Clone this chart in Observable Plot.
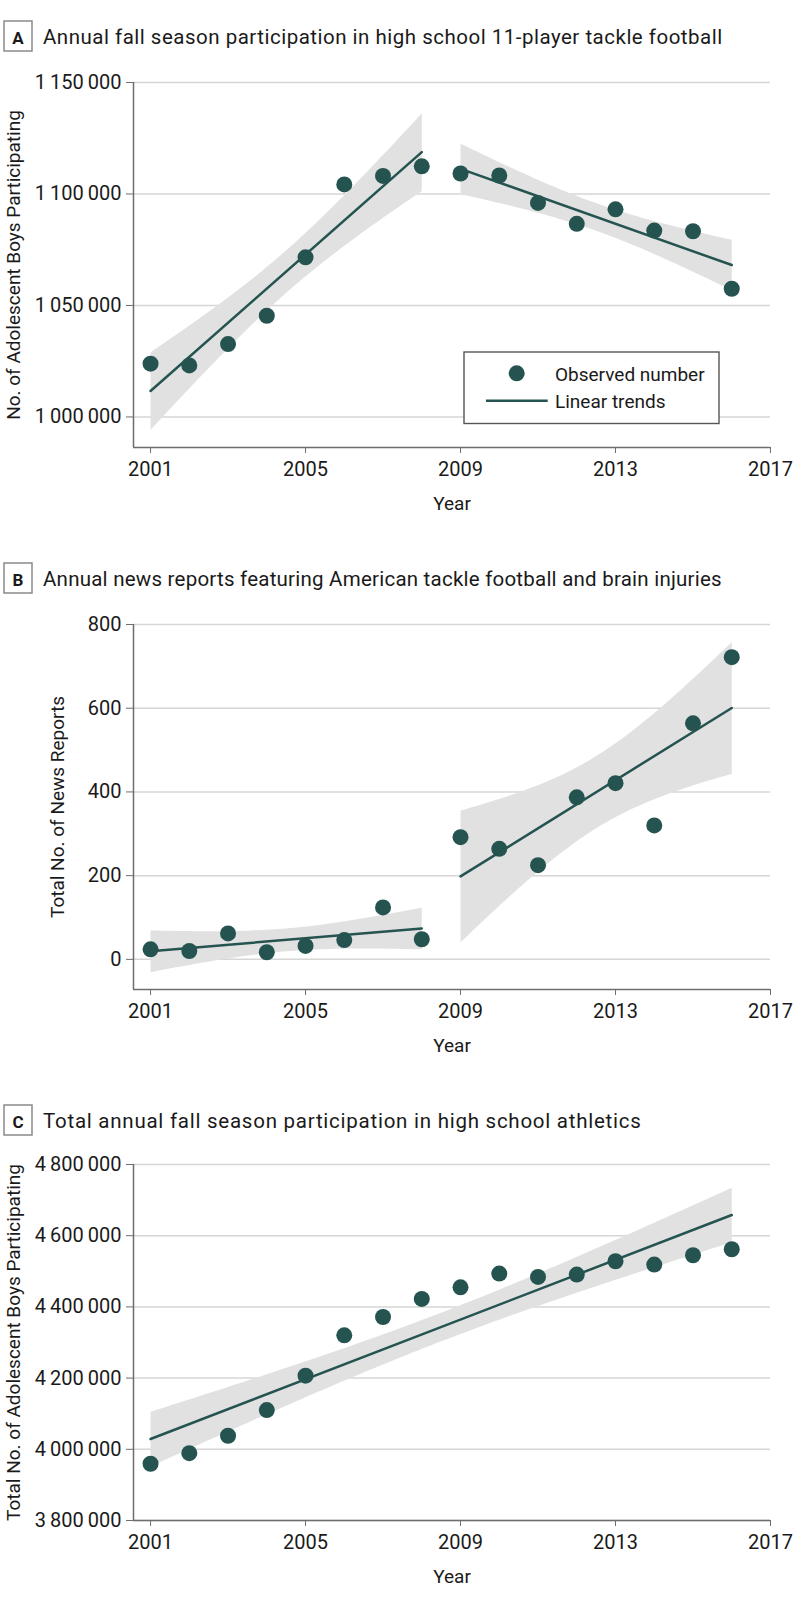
<!DOCTYPE html>
<html>
<head>
<meta charset="utf-8">
<script src="https://cdn.jsdelivr.net/npm/d3@7"></script>
<script src="https://cdn.jsdelivr.net/npm/@observablehq/plot@0.6"></script>
<style>
  body { margin: 0; background: #fff; font-family: Roboto, sans-serif; }
  #root { position: relative; width: 798px; height: 1617px; overflow: hidden; }
  .abs { position: absolute; left: 0; }
</style>
</head>
<body>
<div id="root"></div>
<script>
// ---------------- data ----------------
const years = [2001, 2002, 2003, 2004, 2005, 2006, 2007, 2008, 2009, 2010, 2011, 2012, 2013, 2014, 2015, 2016];
const footballParticipants = [1023900, 1023100, 1032700, 1045400, 1071600, 1104300, 1108100, 1112400,
                              1109200, 1108300, 1096000, 1086600, 1093100, 1083600, 1083300, 1057500];
const newsReports = [24, 20, 62, 17, 32, 46, 124, 48, 292, 264, 225, 387, 421, 320, 564, 722];
const athleticsParticipants = [3959400, 3989200, 4038100, 4110200, 4206800, 4320200, 4371700, 4422300,
                               4455100, 4493600, 4484200, 4490800, 4528300, 4518900, 4545100, 4562000];
const splitAfterYear = 2008;

const panelLetters = ["A", "B", "C"];
const panelTitles = [
  "Annual fall season participation in high school 11-player tackle football",
  "Annual news reports featuring American tackle football and brain injuries",
  "Total annual fall season participation in high school athletics"
];
const yAxisLabels = [
  "No. of Adolescent Boys Participating",
  "Total No. of News Reports",
  "Total No. of Adolescent Boys Participating"
];
const xAxisLabel = "Year";
const xTicks = [2001, 2005, 2009, 2013, 2017];
const xTickLabels = ["2001", "2005", "2009", "2013", "2017"];
const yTicksA = [1000000, 1050000, 1100000, 1150000];
const yTickLabelsA = ["1\u2009000\u2009000", "1\u2009050\u2009000", "1\u2009100\u2009000", "1\u2009150\u2009000"];
const yTicksB = [0, 200, 400, 600, 800];
const yTickLabelsB = ["0", "200", "400", "600", "800"];
const yTicksC = [3800000, 4000000, 4200000, 4400000, 4600000, 4800000];
const yTickLabelsC = ["3\u2009800\u2009000", "4\u2009000\u2009000", "4\u2009200\u2009000", "4\u2009400\u2009000", "4\u2009600\u2009000", "4\u2009800\u2009000"];
const legendLabels = ["Observed number", "Linear trends"];

// ---------------- style ----------------
const DARK = "#255450";
const BAND = "#e1e1e1";
const GRID = "#d6d6d6";
const AXIS = "#6e6e6e";
const TEXT = "#1a1a1a";
const FONT = "Roboto, sans-serif";
const X0 = 2000.56, X1 = 2017;

const root = document.getElementById("root");

function header(letter, title, boxTop, spacing) {
  const ns = "http://www.w3.org/2000/svg";
  const svg = document.createElementNS(ns, "svg");
  svg.setAttribute("width", 798);
  svg.setAttribute("height", 40);
  svg.setAttribute("class", "abs");
  svg.style.top = (boxTop - 4) + "px";
  svg.style.fontFamily = FONT;
  svg.innerHTML =
    `<rect x="4" y="4" width="28" height="30" fill="#fff" stroke="#8a8a8a" stroke-width="1.5"/>` +
    `<text x="18" y="27.3" text-anchor="middle" font-weight="bold" font-size="17" fill="${TEXT}"></text>` +
    `<text x="43" y="27.3" font-size="20.5" letter-spacing="${spacing}" fill="${TEXT}"></text>`;
  const t = svg.querySelectorAll("text");
  t[0].textContent = letter;
  t[1].textContent = title;
  root.appendChild(svg);
}

function panel({values, split, yDomain, yTicks, yTickLabels, yLabel, labelDx, top, plotH}) {
  const data = years.map((year, i) => ({
    year,
    value: values[i],
    period: split ? (year <= splitAfterYear ? "early" : "late") : "all"
  }));
  const fmtY = (d) => yTickLabels[yTicks.indexOf(d)];
  const fmtX = (d) => xTickLabels[xTicks.indexOf(d)];
  const chart = Plot.plot({
    width: 798,
    height: 20 + plotH + 70,
    marginTop: 20,
    marginBottom: 70,
    marginLeft: 133,
    marginRight: 28,
    style: {fontFamily: FONT, fontSize: "20px", color: TEXT, background: "transparent", overflow: "visible"},
    x: {domain: [X0, X1]},
    y: {domain: yDomain},
    marks: [
      Plot.gridY(yTicks, {stroke: GRID, strokeOpacity: 1, strokeWidth: 1.5}),
      Plot.linearRegressionY(data, {x: "year", y: "value", z: "period", ci: 0.95,
        fill: BAND, fillOpacity: 1, stroke: DARK, strokeWidth: 2.5}),
      Plot.dot(data, {x: "year", y: "value", r: 8, fill: DARK, stroke: "none"}),
      Plot.ruleX([X0], {stroke: AXIS, strokeWidth: 1.5}),
      Plot.ruleY([yDomain[0]], {stroke: AXIS, strokeWidth: 1.5}),
      Plot.axisY(yTicks, {tickSize: 7, tickPadding: 5, tickFormat: fmtY, stroke: AXIS, fill: TEXT, label: null}),
      Plot.axisX(xTicks, {tickSize: 6, tickPadding: 8, tickFormat: fmtX, stroke: AXIS, fill: TEXT, label: null}),
      Plot.text([yLabel], {frameAnchor: "left", dx: labelDx, rotate: -90, text: (d) => d, fontSize: 19,
        textAnchor: "middle", lineAnchor: "middle", fill: TEXT}),
      Plot.text([xAxisLabel], {frameAnchor: "bottom", dy: 56, text: (d) => d, fontSize: 19,
        textAnchor: "middle", lineAnchor: "middle", fill: TEXT})
    ]
  });
  chart.setAttribute("class", (chart.getAttribute("class") || "") + " abs");
  chart.style.position = "absolute";
  chart.style.left = "0px";
  chart.style.top = top + "px";
  root.appendChild(chart);
}

panel({values: footballParticipants, split: true, yDomain: [986300, 1150000],
  yTicks: yTicksA, yTickLabels: yTickLabelsA, yLabel: yAxisLabels[0], labelDx: -120, top: 62, plotH: 365});
panel({values: newsReports, split: true, yDomain: [-72, 800],
  yTicks: yTicksB, yTickLabels: yTickLabelsB, yLabel: yAxisLabels[1], labelDx: -76, top: 604, plotH: 365});
panel({values: athleticsParticipants, split: false, yDomain: [3800000, 4800000],
  yTicks: yTicksC, yTickLabels: yTickLabelsC, yLabel: yAxisLabels[2], labelDx: -120, top: 1144, plotH: 356});

header(panelLetters[0], panelTitles[0], 21, 0.5);
header(panelLetters[1], panelTitles[1], 563, 0.23);
header(panelLetters[2], panelTitles[2], 1105, 0.75);

// legend (panel A)
(function legend() {
  const ns = "http://www.w3.org/2000/svg";
  const svg = document.createElementNS(ns, "svg");
  svg.setAttribute("width", 257);
  svg.setAttribute("height", 74);
  svg.setAttribute("class", "abs");
  svg.style.left = "463px";
  svg.style.top = "351px";
  svg.style.fontFamily = FONT;
  svg.innerHTML =
    `<rect x="1" y="1" width="255" height="71.5" fill="#fff" stroke="#555" stroke-width="1.4"/>` +
    `<circle cx="53.7" cy="22.3" r="8" fill="${DARK}"/>` +
    `<line x1="23" x2="84.7" y1="49.7" y2="49.7" stroke="${DARK}" stroke-width="2.5"/>` +
    `<text x="92" y="29.7" font-size="19" fill="${TEXT}"></text>` +
    `<text x="92" y="57.3" font-size="19" fill="${TEXT}"></text>`;
  const t = svg.querySelectorAll("text");
  t[0].textContent = legendLabels[0];
  t[1].textContent = legendLabels[1];
  root.appendChild(svg);
})();
</script>
</body>
</html>
